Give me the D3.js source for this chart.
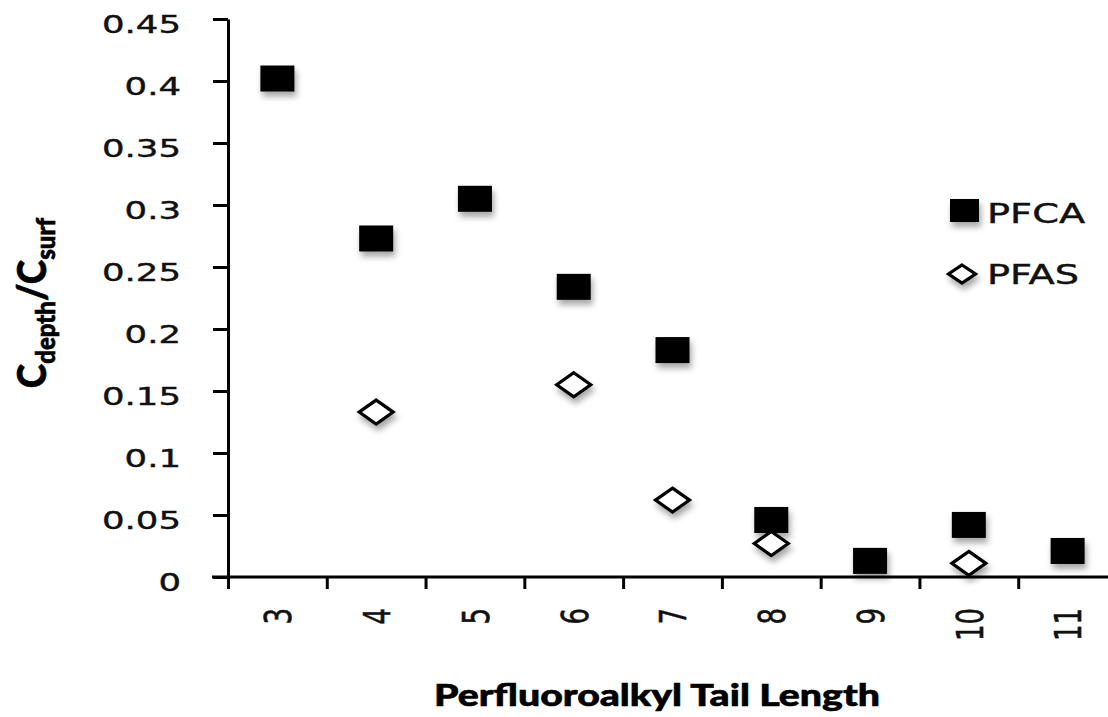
<!DOCTYPE html>
<html>
<head>
<meta charset="utf-8">
<script src="https://cdn.jsdelivr.net/npm/d3@7"></script>
<style>
  html, body { margin: 0; padding: 0; background: #fff; overflow: hidden; }
</style>
</head>
<body>
<div id="chart"></div>
<script>
// tail lengths on the category axis
const tailLengths = [3, 4, 5, 6, 7, 8, 9, 10, 11];
// C_depth / C_surf ratios
const pfcaValues = [
  { n: 3, v: 0.402 }, { n: 4, v: 0.273 }, { n: 5, v: 0.305 },
  { n: 6, v: 0.234 }, { n: 7, v: 0.183 }, { n: 8, v: 0.046 },
  { n: 9, v: 0.013 }, { n: 10, v: 0.042 }, { n: 11, v: 0.021 }
];
const pfasValues = [
  { n: 4, v: 0.133 }, { n: 6, v: 0.155 }, { n: 7, v: 0.062 },
  { n: 8, v: 0.027 }, { n: 10, v: 0.011 }
];
const yTicks = [0, 0.05, 0.1, 0.15, 0.2, 0.25, 0.3, 0.35, 0.4, 0.45];
const seriesNames = ['PFCA', 'PFAS'];

const W = 1108, H = 717;
const stretch = 1.42; // the original figure is squashed wide

const svg = d3.select('#chart').append('svg')
  .attr('width', W).attr('height', H);

const defs = svg.append('defs');
const f = defs.append('filter').attr('id', 'shadow')
  .attr('x', '-50%').attr('y', '-50%').attr('width', '200%').attr('height', '220%');
f.append('feDropShadow')
  .attr('dx', 2).attr('dy', 5).attr('stdDeviation', 3)
  .attr('flood-color', '#000').attr('flood-opacity', 0.35);

// x: categories sit between boundary ticks
const x = d3.scaleLinear().domain([2.5, 11.5]).range([228, 1117]);
const y = d3.scaleLinear().domain([0, 0.45]).range([577, 19]);

const tickFont = sel => sel
  .attr('fill', '#111')
  .attr('stroke', '#111').attr('stroke-width', 0.4)
  .style('font-family', '"DejaVu Sans", sans-serif');

// y axis
const yAxis = svg.append('g')
  .attr('transform', `translate(${x(2.5)},0)`)
  .call(d3.axisLeft(y).tickValues(yTicks).tickSize(15).tickSizeOuter(0)
    .tickFormat(d => d === 0 ? '0' : String(+d.toFixed(2))));
yAxis.select('.domain').attr('stroke', '#000').attr('stroke-width', 3);
yAxis.selectAll('.tick line').attr('stroke', '#000').attr('stroke-width', 3);
yAxis.selectAll('.tick text')
  .call(tickFont)
  .style('font-size', '25px')
  .attr('x', -47 / stretch)
  .attr('dy', '0.32em')
  .attr('y', 5)
  .attr('transform', `scale(${stretch},1)`);

// x axis: boundary ticks
const boundaries = d3.range(2.5, 12, 1);
const xAxis = svg.append('g')
  .attr('transform', `translate(0,${y(0)})`)
  .call(d3.axisBottom(x).tickValues(boundaries).tickSize(12).tickSizeOuter(0).tickFormat(''));
xAxis.select('.domain').attr('stroke', '#000').attr('stroke-width', 3)
  .attr('d', `M${x(2.5) - 16},0H${x(11.5)}`);
xAxis.selectAll('.tick line').attr('stroke', '#000').attr('stroke-width', 3);

// x labels, rotated and centred in each category
const xLab = svg.append('g')
  .attr('transform', `translate(0,${y(0)})`)
  .call(d3.axisBottom(x).tickValues(tailLengths).tickSize(0).tickFormat(d3.format('d')));
xLab.select('.domain').remove();
xLab.selectAll('.tick text')
  .call(tickFont)
  .style('font-size', '26px')
  .attr('x', 0).attr('y', 0)
  .attr('dy', '0.36em')
  .attr('text-anchor', 'end')
  .attr('transform', `translate(0,31) scale(${stretch},1) rotate(-90)`);

// markers
const sq = { w: 34, h: 26 };
const dm = { w: 37, h: 27 };

svg.append('g').selectAll('rect')
  .data(pfcaValues).join('rect')
  .attr('x', d => x(d.n) - sq.w / 2)
  .attr('y', d => y(d.v) - sq.h / 2)
  .attr('width', sq.w).attr('height', sq.h)
  .attr('fill', '#000')
  .attr('filter', 'url(#shadow)');

const diamond = (cx, cy, w, h) =>
  `M${cx},${cy - h / 2}L${cx + w / 2},${cy}L${cx},${cy + h / 2}L${cx - w / 2},${cy}Z`;

svg.append('g').selectAll('path')
  .data(pfasValues).join('path')
  .attr('d', d => diamond(x(d.n), y(d.v), dm.w - 3, dm.h - 3))
  .attr('fill', '#fff')
  .attr('stroke', '#000')
  .attr('stroke-width', 3.2)
  .attr('filter', 'url(#shadow)');

// legend
const legend = svg.append('g');
legend.append('rect')
  .attr('x', 950).attr('y', 199).attr('width', 29).attr('height', 23)
  .attr('fill', '#000').attr('filter', 'url(#shadow)');
legend.append('path')
  .attr('d', diamond(962, 274, 27, 18))
  .attr('fill', '#fff').attr('stroke', '#000').attr('stroke-width', 3.2)
  .attr('filter', 'url(#shadow)');
legend.selectAll('text')
  .data(seriesNames).join('text')
  .attr('x', 987 / stretch)
  .attr('y', (d, i) => i === 0 ? 223 : 284)
  .attr('transform', `scale(${stretch},1)`)
  .call(tickFont)
  .style('font-size', '27px')
  .text(d => d);

// axis titles
svg.append('text')
  .attr('x', 657).attr('y', 706)
  .attr('text-anchor', 'middle')
  .style('font-family', 'Lato, sans-serif')
  .style('font-weight', '900')
  .style('font-size', '31px')
  .attr('fill', '#000')
  .attr('stroke', '#000').attr('stroke-width', 0.6)
  .attr('textLength', 446).attr('lengthAdjust', 'spacingAndGlyphs')
  .text('Perfluoroalkyl Tail Length');

const yt = svg.append('text')
  .attr('transform', 'translate(46,303) scale(1.1,1) rotate(-90)')
  .attr('text-anchor', 'middle')
  .style('font-family', 'Lato, sans-serif')
  .style('font-weight', '900')
  .style('font-size', '37px')
  .attr('fill', '#000')
  .attr('stroke', '#000').attr('stroke-width', 0.6);
yt.append('tspan').text('C');
yt.append('tspan').attr('dy', 8).style('font-size', '24px').text('depth');
yt.append('tspan').attr('dy', -8).text('/C');
yt.append('tspan').attr('dy', 8).style('font-size', '24px').text('surf');
</script>
</body>
</html>
